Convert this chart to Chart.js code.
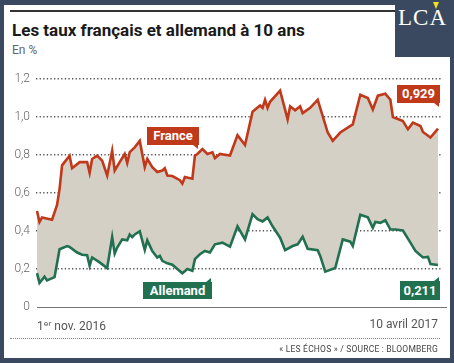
<!DOCTYPE html>
<html lang="fr">
<head>
    <meta charset="UTF-8">
    <title>Les taux français et allemand à 10 ans</title>
    <script src="https://cdn.jsdelivr.net/npm/chart.js"></script>
    <style>
        body {
            margin: 0;
            width: 454px;
            height: 363px;
            background: #3a4960;
            position: relative;
            overflow: hidden;
            font-family: Roboto, "Noto Sans", sans-serif;
        }
        .panel {
            position: absolute;
            left: 4px; top: 5px;
            width: 446px; height: 353px;
            background: #fff;
        }
        .rule {
            position: absolute;
            left: 10px; top: 10px;
            width: 386px; height: 1.5px;
            background: #333;
        }
        .logo {
            position: absolute;
            left: 395px; top: 0;
            width: 59px; height: 57px;
            background: #3a4960;
        }
        .logo span {
            position: absolute;
            left: 3px; top: 5px;
            color: #fff;
            font-family: "Liberation Serif", "DejaVu Serif", serif;
            font-size: 23px;
            letter-spacing: 1px;
        }
        .logo i {
            position: absolute;
            left: 38px; top: 2px;
            width: 0; height: 0;
            border-left: 3.5px solid transparent;
            border-right: 3.5px solid transparent;
            border-top: 7px solid #f2e21b;
        }
        h1 {
            position: absolute;
            left: 12px; top: 20px;
            margin: 0;
            font-size: 17px;
            font-weight: bold;
            color: #1a1a1a;
        }
        .unit {
            position: absolute;
            left: 12px; top: 43px;
            font-size: 12px;
            color: #666;
        }
        #wrap {
            position: absolute;
            left: 0; top: 60px;
            width: 454px; height: 260px;
        }
        .xlab {
            position: absolute;
            top: 317px;
            font-size: 12px;
            color: #555;
        }
        .sep {
            position: absolute;
            left: 10px; top: 338px;
            width: 430px;
            border-top: 1px dotted #888;
        }
        .source {
            position: absolute;
            right: 16px; top: 344px;
            font-size: 8.5px;
            color: #444;
            letter-spacing: 0.2px;
        }
        .tag {
            position: absolute;
            color: #fff;
            font-weight: bold;
            font-size: 13px;
            text-align: center;
            box-sizing: border-box;
        }
        .tag::after {
            content: "";
            position: absolute;
            right: 1px;
            width: 0; height: 0;
            border-left: 5px solid transparent;
        }
        .tag.down::after { bottom: -4px; border-top: 4px solid var(--c); }
        .tag.up::after { top: -4px; border-bottom: 4px solid var(--c); }
    </style>
</head>
<body>
    <div class="panel"></div>
    <div class="rule"></div>
    <div class="logo"><span>LCA</span><i></i></div>
    <h1>Les taux français et allemand à 10 ans</h1>
    <div class="unit">En %</div>
    <div id="wrap"><canvas id="chart"></canvas></div>
    <div class="xlab" id="xFirst" style="left:37px;"></div>
    <div class="xlab" id="xLast" style="right:16px;"></div>
    <div class="sep"></div>
    <div class="source">« LES ÉCHOS » / SOURCE : BLOOMBERG</div>

    <div class="tag down" id="tagFrance" style="--c:#c0391b;background:#c0391b;left:147px;top:127px;width:52px;height:18px;line-height:18px;"></div>
    <div class="tag up" id="tagGermany" style="--c:#217050;background:#217050;left:143px;top:282px;width:69px;height:17px;line-height:17px;"></div>
    <div class="tag down" id="endFrance" style="--c:#c0391b;background:#c0391b;left:397px;top:85px;width:43px;height:18px;line-height:18px;"></div>
    <div class="tag up" id="endGermany" style="--c:#217050;background:#217050;left:400px;top:281px;width:40px;height:19px;line-height:19px;"></div>

    <script>
        // days since 1 Nov 2016 (0) to 10 Apr 2017 (160)
        const franceDays = [0, 1, 2, 6, 8, 9, 10, 13, 14, 17, 20, 21, 22, 24, 26, 28, 30, 31, 33, 35, 36, 37, 39, 41, 43, 44, 46, 48, 50, 51, 52, 54, 57, 58, 59, 62, 63, 64, 66, 68, 70, 71, 73, 77, 80, 83, 86, 89, 90, 91, 92, 93, 97, 100, 101, 103, 105, 106, 109, 112, 114, 116, 118, 121, 126, 129, 132, 134, 136, 139, 141, 142, 146, 148, 150, 153, 154, 157, 160];
        const franceValues = [0.505, 0.447, 0.47, 0.459, 0.537, 0.62, 0.745, 0.796, 0.73, 0.762, 0.762, 0.706, 0.779, 0.796, 0.77, 0.692, 0.822, 0.718, 0.762, 0.805, 0.758, 0.815, 0.84, 0.874, 0.736, 0.779, 0.736, 0.71, 0.718, 0.73, 0.692, 0.689, 0.667, 0.649, 0.684, 0.675, 0.796, 0.805, 0.831, 0.805, 0.814, 0.783, 0.805, 0.797, 0.904, 0.852, 1.027, 1.06, 1.048, 1.09, 1.048, 1.08, 1.139, 0.987, 1.056, 1.035, 1.056, 1.02, 1.048, 1.09, 1.004, 0.918, 0.874, 0.918, 0.961, 1.117, 1.1, 1.039, 1.112, 1.122, 1.091, 1.0, 0.978, 0.935, 0.97, 0.952, 0.921, 0.892, 0.939];

        const germanyDays = [0, 1, 3, 4, 7, 9, 12, 13, 16, 18, 20, 21, 22, 25, 28, 30, 31, 32, 34, 36, 37, 38, 39, 41, 43, 44, 46, 48, 49, 50, 52, 54, 56, 58, 60, 62, 63, 65, 67, 69, 71, 74, 77, 80, 83, 86, 88, 90, 92, 94, 97, 99, 102, 104, 106, 108, 112, 113, 115, 119, 122, 125, 126, 129, 132, 134, 135, 137, 139, 141, 143, 146, 149, 151, 154, 156, 157, 160];
        const germanyValues = [0.177, 0.126, 0.159, 0.139, 0.156, 0.303, 0.32, 0.315, 0.286, 0.274, 0.272, 0.216, 0.26, 0.234, 0.204, 0.367, 0.281, 0.312, 0.355, 0.35, 0.381, 0.367, 0.381, 0.398, 0.3, 0.35, 0.294, 0.26, 0.268, 0.242, 0.229, 0.222, 0.199, 0.177, 0.199, 0.19, 0.251, 0.277, 0.294, 0.286, 0.329, 0.338, 0.317, 0.424, 0.355, 0.488, 0.462, 0.45, 0.471, 0.424, 0.364, 0.298, 0.32, 0.329, 0.369, 0.306, 0.298, 0.268, 0.185, 0.204, 0.355, 0.343, 0.32, 0.485, 0.471, 0.416, 0.447, 0.442, 0.456, 0.407, 0.407, 0.402, 0.338, 0.294, 0.26, 0.263, 0.225, 0.22];

        const yTicks = [0, 0.2, 0.4, 0.6, 0.8, 1.0, 1.2];
        const firstDateLabel = '1ᵉʳ nov. 2016';
        const lastDateLabel = '10 avril 2017';
        const seriesNames = ['France', 'Allemand'];
        const lastValues = [0.929, 0.211];

        const red = '#c0391b';
        const green = '#217050';
        const frFormat = v => v === 0 ? '0' : v.toFixed(1).replace('.', ',');

        document.getElementById('xFirst').textContent = firstDateLabel;
        document.getElementById('xLast').textContent = lastDateLabel;
        document.getElementById('tagFrance').textContent = seriesNames[0];
        document.getElementById('tagGermany').textContent = seriesNames[1];
        document.getElementById('endFrance').textContent = lastValues[0].toFixed(3).replace('.', ',');
        document.getElementById('endGermany').textContent = lastValues[1].toFixed(3).replace('.', ',');

        const toPoints = (xs, ys) => xs.map((x, i) => ({ x: x, y: ys[i] }));

        // solid baseline at zero, running past the plot to the right
        const baseline = {
            id: 'baseline',
            afterDraw(chart) {
                const c = chart.ctx;
                const y = Math.round(chart.scales.y.getPixelForValue(0)) + 0.5;
                c.save();
                c.strokeStyle = '#777';
                c.lineWidth = 1.2;
                c.beginPath();
                c.moveTo(chart.chartArea.left + 1, y);
                c.lineTo(447, y);
                c.stroke();
                c.restore();
            }
        };

        const ctx = document.getElementById('chart').getContext('2d');
        const chart = new Chart(ctx, {
            type: 'line',
            data: {
                datasets: [{
                    label: seriesNames[0],
                    data: toPoints(franceDays, franceValues),
                    borderColor: red,
                    borderWidth: 2.6,
                    backgroundColor: '#d5d0c5',
                    fill: '+1',
                    pointRadius: 0,
                    tension: 0
                }, {
                    label: seriesNames[1],
                    data: toPoints(germanyDays, germanyValues),
                    borderColor: green,
                    borderWidth: 2.6,
                    fill: false,
                    pointRadius: 0,
                    tension: 0
                }]
            },
            options: {
                responsive: true,
                maintainAspectRatio: false,
                animation: false,
                layout: { padding: { top: 19, bottom: 10, right: 13, left: 0 } },
                plugins: {
                    legend: { display: false },
                    tooltip: { enabled: false },
                    filler: { drawTime: 'beforeDatasetsDraw' }
                },
                scales: {
                    x: {
                        type: 'linear',
                        display: false,
                        min: -0.4,
                        max: 161.2
                    },
                    y: {
                        min: 0,
                        max: 1.2,
                        afterBuildTicks: scale => { scale.ticks = yTicks.map(v => ({ value: v })); },
                        afterFit: scale => { scale.width = 36; },
                        border: { display: false, dash: [1.3, 2.3] },
                        grid: {
                            drawTicks: false,
                            lineWidth: 1.4,
                            color: c => c.tick.value === 0 ? 'rgba(0,0,0,0)' : '#555'
                        },
                        ticks: {
                            padding: 6,
                            color: '#666',
                            font: { family: 'Roboto', size: 12, weight: 300 },
                            callback: v => frFormat(v)
                        }
                    }
                }
            },
            plugins: [baseline]
        });
    </script>
</body>
</html>
